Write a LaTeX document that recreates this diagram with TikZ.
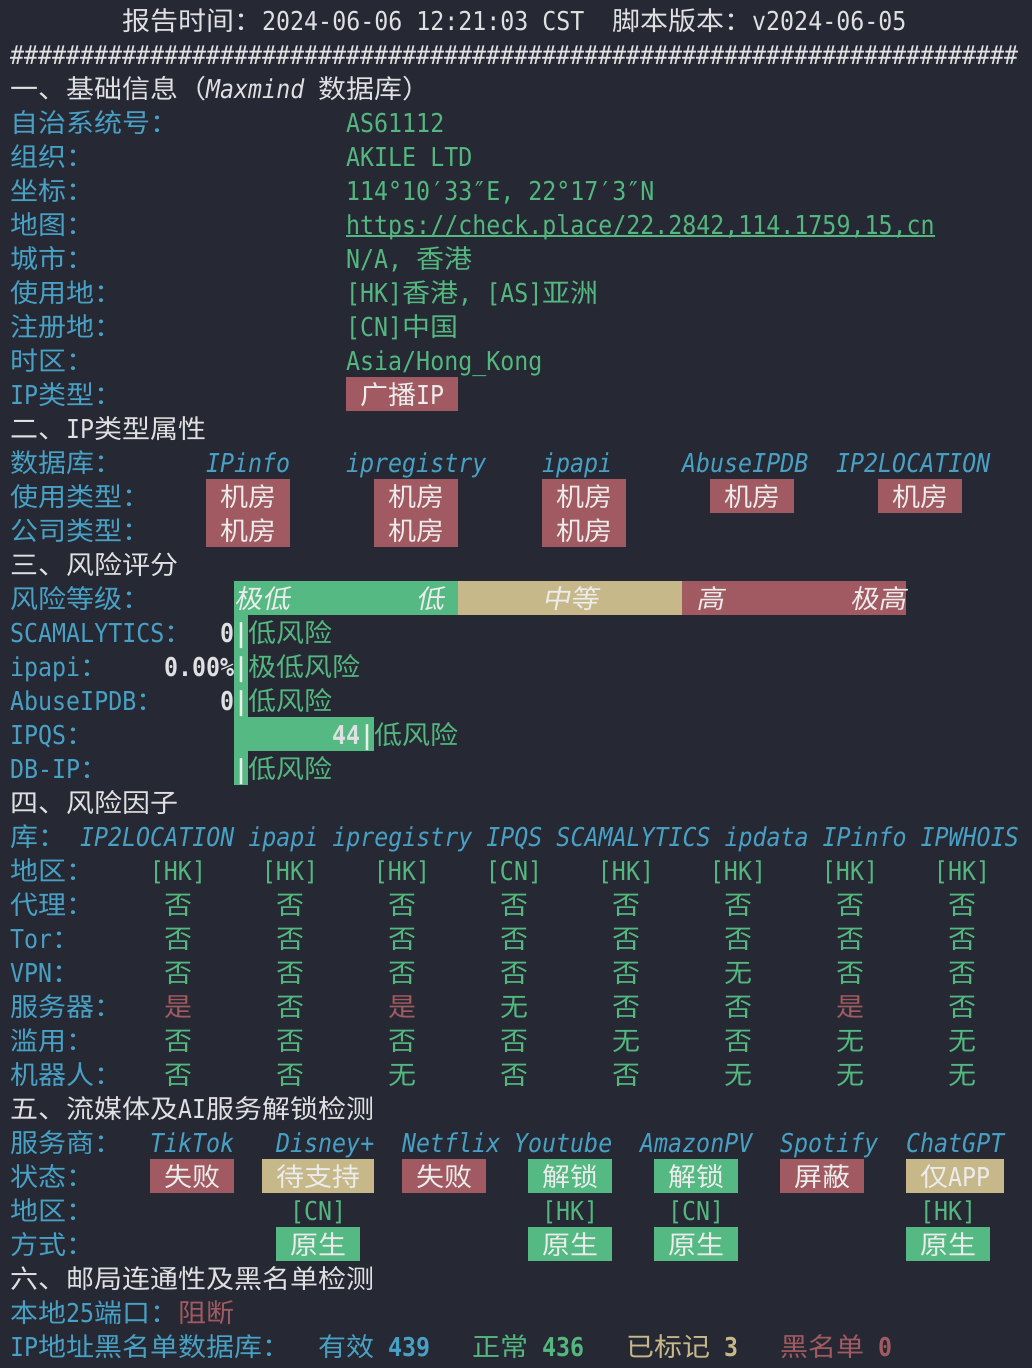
\documentclass[tikz,border=0pt]{standalone}
\usepackage{fontspec}
\setmainfont{DejaVu Sans Mono}[FakeStretch=0.895]
\newfontfamily\cjkfont{Noto Sans CJK SC}[FakeStretch=1.077,
  ItalicFont=Noto Sans CJK SC, ItalicFeatures={FakeSlant=0.2}]
% CJK runs switch font by themselves
\XeTeXinterchartokenstate=1
\newXeTeXintercharclass\cjkclass
\newcount\cjkcode
\cjkcode="2E80
\loop\ifnum\cjkcode<"A000 \XeTeXcharclass\cjkcode=\cjkclass \advance\cjkcode by 1 \repeat
\cjkcode="FF00
\loop\ifnum\cjkcode<"FFF0 \XeTeXcharclass\cjkcode=\cjkclass \advance\cjkcode by 1 \repeat
\XeTeXinterchartoks 0 \cjkclass={\cjkfont}
\XeTeXinterchartoks 4095 \cjkclass={\cjkfont}
\XeTeXinterchartoks \cjkclass 0={\rmfamily}
\XeTeXinterchartoks \cjkclass 4095={\rmfamily}
\newcommand\termsize{\fontsize{26}{30}\selectfont}
\definecolor{bgc}{RGB}{38,41,51}
\definecolor{whitec}{RGB}{222,224,226}
\definecolor{labc}{RGB}{72,161,197}
\definecolor{valc}{RGB}{83,183,127}
\definecolor{okc}{RGB}{84,185,130}
\definecolor{badc}{RGB}{161,90,97}
\definecolor{midc}{RGB}{198,184,137}
\definecolor{tagtxt}{RGB}{236,236,236}
\tikzset{
 txt/.style={anchor=north west, inner sep=0pt, text height=27pt, text depth=7pt, font=\termsize},
 hdr/.style={txt, text=whitec},
 lbl/.style={txt, text=labc},
 val/.style={txt, text=valc},
 db/.style={txt, text=labc, font=\termsize\itshape},
 tag/.style={txt, text=tagtxt},
 barlbl/.style={txt, text=tagtxt, font=\termsize\itshape},
 num/.style={txt, text=whitec, font=\termsize\bfseries}
}
\begin{document}
\begin{tikzpicture}[x=14pt, y=-34pt]
\fill[bgc] (-0.71429,-0.08824) rectangle (73,40.14706);
% header
\node[hdr] (time) at (8,0) {报告时间：2024-06-06 12:21:03 CST};
\node[hdr] (ver) at (43,0) {脚本版本：v2024-06-05};
\foreach \i in {0,...,71}
  \node[hdr] (hash\i) at (\i,1) {\#};
% basic info
\node[hdr] (sec1) at (0,2) {一、基础信息（\textit{Maxmind} 数据库）};
\node[lbl] (asn-l) at (0,3) {自治系统号：};
\node[val] (asn) at (24,3) {AS61112};
\node[lbl] (org-l) at (0,4) {组织：};
\node[val] (org) at (24,4) {AKILE LTD};
\node[lbl] (pos-l) at (0,5) {坐标：};
\node[val] (pos) at (24,5) {114°10′33″E, 22°17′3″N};
\node[lbl] (map-l) at (0,6) {地图：};
\node[val] (url) at (24,6) {https://check.place/22.2842,114.1759,15,cn};
\draw[valc, line width=1.6pt] ([yshift=-1.5pt]url.base west) -- ([yshift=-1.5pt]url.base east);
\node[lbl] (city-l) at (0,7) {城市：};
\node[val] (city) at (24,7) {N/A, 香港};
\node[lbl] (use-l) at (0,8) {使用地：};
\node[val] (use) at (24,8) {[HK]香港, [AS]亚洲};
\node[lbl] (reg-l) at (0,9) {注册地：};
\node[val] (reg) at (24,9) {[CN]中国};
\node[lbl] (tz-l) at (0,10) {时区：};
\node[val] (tz) at (24,10) {Asia/Hong\_Kong};
\node[lbl] (ipt-l) at (0,11) {IP类型：};
\node[tag, fill=badc, minimum width=112pt] (ipt) at (24,11) {广播IP};
% ip type
\node[hdr] (sec2) at (0,12) {二、IP类型属性};
\node[lbl] (src-l) at (0,13) {数据库：};
\node[db] (src1) at (14,13) {IPinfo};
\node[db] (src2) at (24,13) {ipregistry};
\node[db] (src3) at (38,13) {ipapi};
\node[db] (src4) at (48,13) {AbuseIPDB};
\node[db] (src5) at (59,13) {IP2LOCATION};
\node[lbl] (usage-l) at (0,14) {使用类型：};
\foreach \c [count=\k] in {14,26,38,50,62}
  \node[tag, fill=badc, minimum width=84pt] (usage\k) at (\c,14) {机房};
\node[lbl] (comp-l) at (0,15) {公司类型：};
\foreach \c [count=\k] in {14,26,38}
  \node[tag, fill=badc, minimum width=84pt] (comp\k) at (\c,15) {机房};
% risk score
\node[hdr] (sec3) at (0,16) {三、风险评分};
\node[lbl] (lvl-l) at (0,17) {风险等级：};
\fill[okc] (16,17) rectangle (32,18);
\fill[midc] (32,17) rectangle (48,18);
\fill[badc] (48,17) rectangle (64,18);
\node[barlbl] (lvl1) at (16,17) {极低};
\node[barlbl] (lvl2) at (29,17) {低};
\node[barlbl] (lvl3) at (38,17) {中等};
\node[barlbl] (lvl4) at (49,17) {高};
\node[barlbl] (lvl5) at (60,17) {极高};
\fill[okc] (16,18) rectangle (17,23);
\fill[okc] (16,21) rectangle (26,22);
\node[lbl] (scam-l) at (0,18) {SCAMALYTICS：};
\node[num] (scam) at (15,18) {0};
\node[num, text=tagtxt] (scam-b) at (16,18) {|};
\node[val] (scam-t) at (17,18) {低风险};
\node[lbl] (ipapi-l) at (0,19) {ipapi：};
\node[num] (ipapi) at (11,19) {0.00\%};
\node[num, text=tagtxt] (ipapi-b) at (16,19) {|};
\node[val] (ipapi-t) at (17,19) {极低风险};
\node[lbl] (abuse-l) at (0,20) {AbuseIPDB：};
\node[num] (abuse) at (15,20) {0};
\node[num, text=tagtxt] (abuse-b) at (16,20) {|};
\node[val] (abuse-t) at (17,20) {低风险};
\node[lbl] (ipqs-l) at (0,21) {IPQS：};
\node[num] (ipqs) at (23,21) {44};
\node[num, text=tagtxt] (ipqs-b) at (25,21) {|};
\node[val] (ipqs-t) at (26,21) {低风险};
\node[lbl] (dbip-l) at (0,22) {DB-IP：};
\node[num, text=tagtxt] (dbip-b) at (16,22) {|};
\node[val] (dbip-t) at (17,22) {低风险};
% risk factors
\node[hdr] (sec4) at (0,23) {四、风险因子};
\node[lbl] (lib-l) at (0,24) {库：};
\node[db] (libs) at (5,24) {IP2LOCATION ipapi ipregistry IPQS SCAMALYTICS ipdata IPinfo IPWHOIS};
\foreach \lab/\vals [count=\r from 25] in {
  地区：/{valc/[HK],valc/[HK],valc/[HK],valc/[CN],valc/[HK],valc/[HK],valc/[HK],valc/[HK]},
  代理：/{valc/否,valc/否,valc/否,valc/否,valc/否,valc/否,valc/否,valc/否},
  Tor：/{valc/否,valc/否,valc/否,valc/否,valc/否,valc/否,valc/否,valc/否},
  VPN：/{valc/否,valc/否,valc/否,valc/否,valc/否,valc/无,valc/否,valc/否},
  服务器：/{badc/是,valc/否,badc/是,valc/无,valc/否,valc/否,badc/是,valc/否},
  滥用：/{valc/否,valc/否,valc/否,valc/否,valc/无,valc/否,valc/无,valc/无},
  机器人：/{valc/否,valc/否,valc/无,valc/否,valc/否,valc/无,valc/无,valc/无}}
{
  \node[lbl] (fac\r) at (0,\r) {\lab};
  \foreach \clr/\v [count=\c from 0] in \vals
    \node[txt, anchor=north, text=\clr] (fac\r-\c) at (12+8*\c,\r) {\v};
}
% unlock tests
\node[hdr] (sec5) at (0,32) {五、流媒体及AI服务解锁检测};
\node[lbl] (svc-l) at (0,33) {服务商：};
\node[db] (svc1) at (10,33) {TikTok};
\node[db] (svc2) at (19,33) {Disney+};
\node[db] (svc3) at (28,33) {Netflix};
\node[db] (svc4) at (36,33) {Youtube};
\node[db] (svc5) at (45,33) {AmazonPV};
\node[db] (svc6) at (55,33) {Spotify};
\node[db] (svc7) at (64,33) {ChatGPT};
\node[lbl] (st-l) at (0,34) {状态：};
\node[tag, fill=badc, minimum width=84pt] (st1) at (10,34) {失败};
\node[tag, fill=midc, minimum width=112pt] (st2) at (18,34) {待支持};
\node[tag, fill=badc, minimum width=84pt] (st3) at (28,34) {失败};
\node[tag, fill=okc, minimum width=84pt] (st4) at (37,34) {解锁};
\node[tag, fill=okc, minimum width=84pt] (st5) at (46,34) {解锁};
\node[tag, fill=badc, minimum width=84pt] (st6) at (55,34) {屏蔽};
\node[tag, fill=midc, minimum width=98pt] (st7) at (64,34) {仅APP};
\node[lbl] (rg-l) at (0,35) {地区：};
\node[val] (rg2) at (20,35) {[CN]};
\node[val] (rg4) at (38,35) {[HK]};
\node[val] (rg5) at (47,35) {[CN]};
\node[val] (rg7) at (65,35) {[HK]};
\node[lbl] (way-l) at (0,36) {方式：};
\node[tag, fill=okc, minimum width=84pt] (way2) at (19,36) {原生};
\node[tag, fill=okc, minimum width=84pt] (way4) at (37,36) {原生};
\node[tag, fill=okc, minimum width=84pt] (way5) at (46,36) {原生};
\node[tag, fill=okc, minimum width=84pt] (way7) at (64,36) {原生};
% mail
\node[hdr] (sec6) at (0,37) {六、邮局连通性及黑名单检测};
\node[lbl] (port-l) at (0,38) {本地25端口：};
\node[txt, text=badc] (port) at (12,38) {阻断};
\node[lbl] (bl-l) at (0,39) {IP地址黑名单数据库：};
\node[lbl] (bl1) at (22,39) {有效 \textbf{439}};
\node[val] (bl2) at (33,39) {正常 \textbf{436}};
\node[txt, text=midc] (bl3) at (44,39) {已标记 \textbf{3}};
\node[txt, text=badc] (bl4) at (55,39) {黑名单 \textbf{0}};
\end{tikzpicture}
\end{document}
